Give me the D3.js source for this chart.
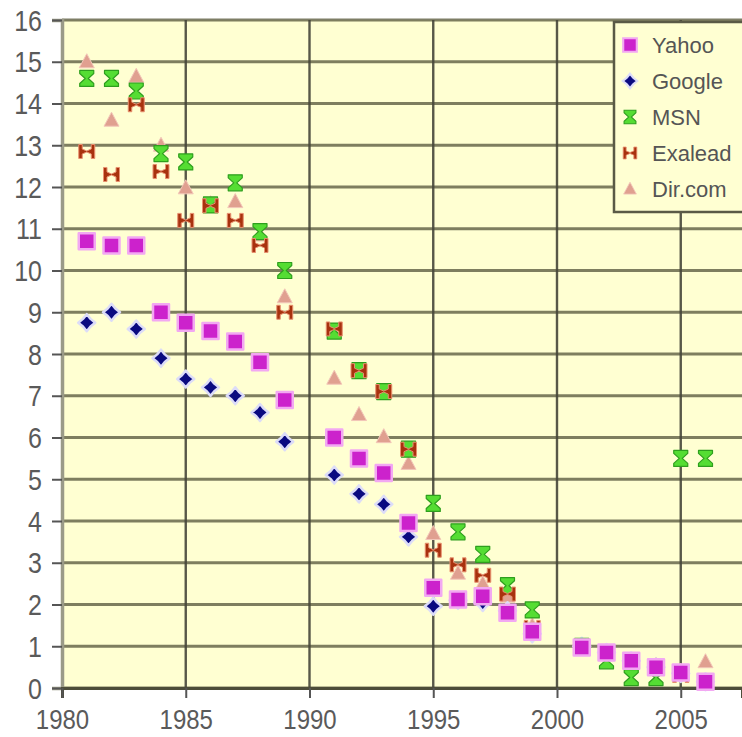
<!DOCTYPE html>
<html><head><meta charset="utf-8">
<script src="https://cdn.jsdelivr.net/npm/d3@7"></script>
<style>
html,body{margin:0;padding:0;background:#fff;}
svg{display:block;}
text{font-family:"Liberation Sans",Arial,sans-serif;}
</style></head>
<body>
<svg id="c" width="742" height="737"></svg>
<script>
const years = [1981,1982,1983,1984,1985,1986,1987,1988,1989,1991,1992,1993,1994,1995,1996,1997,1998,1999,2001,2002,2003,2004,2005,2006];
const yahoo   = [10.7,10.6,10.6,9.0,8.75,8.55,8.3,7.8,6.9, 6.0,5.5,5.15,3.95,2.4,2.12,2.2,1.8,1.35, 0.97,0.85,0.65,0.5,0.37,0.15];
const google  = [8.75,9.0,8.6,7.9,7.4,7.2,7.0,6.6,5.9, 5.1,4.65,4.4,3.62,1.96,2.1,2.05,1.85,1.3, 1.0,0.85,0.65,0.5,0.35,0.15];
const msn     = [14.6,14.6,14.3,12.8,12.6,11.57,12.1,10.93,10.0, 8.55,7.6,7.1,5.72,4.42,3.74,3.2,2.45,1.87, 1.0,0.65,0.25,0.25,5.5,5.5];
const exalead = [12.85,12.3,13.97,12.37,11.2,11.55,11.2,10.6,9.0, 8.6,7.6,7.1,5.72,3.3,2.95,2.7,2.25,1.45, 1.0,0.85,0.65,0.5,0.3,0.15];
const dircom  = [15.0,13.6,14.65,13.0,11.98,11.6,11.65,10.85,9.37, 7.42,6.55,6.02,5.38,3.7,2.75,2.5,2.2,1.5, 1.0,0.85,0.65,0.55,0.4,0.63];
const seriesNames = ["Yahoo","Google","MSN","Exalead","Dir.com"];
const xTicks = [1980,1985,1990,1995,2000,2005];
const yTicks = d3.range(0,17);

const svg = d3.select("#c");
const L = 62, R = 742, T = 20, B = 688;
const x = d3.scaleLinear().domain([1980, 1980 + (R-L)/24.75]).range([L, R]);
const y = d3.scaleLinear().domain([0,16]).range([B, T]);

// plot background
svg.append("rect").attr("x",L).attr("y",T).attr("width",R-L).attr("height",B-T).attr("fill","#FFFFD2");

// grid
const grid = svg.append("g");
grid.selectAll("line.h").data(yTicks).join("line")
  .attr("x1",L).attr("x2",R).attr("y1",d=>y(d)).attr("y2",d=>y(d))
  .attr("stroke","#68684c").attr("stroke-width",2.8).attr("opacity",0.85);
grid.selectAll("line.v").data(xTicks.slice(1)).join("line")
  .attr("x1",d=>x(d)).attr("x2",d=>x(d)).attr("y1",T).attr("y2",B)
  .attr("stroke","#46463a").attr("stroke-width",2.4).attr("opacity",0.9);

// axes
const yAxis = svg.append("g").attr("transform",`translate(${L},0)`)
  .call(d3.axisLeft(y).tickValues(yTicks).tickFormat(d3.format("d")).tickSize(10).tickPadding(10));
yAxis.select(".domain").attr("stroke","#9a9a88").attr("stroke-width",3.5);
yAxis.selectAll(".tick line").attr("stroke","#555").attr("stroke-width",2);
yAxis.selectAll(".tick text").attr("fill","#5a5a5a").attr("font-size","25px")
  .attr("transform","scale(1,1.18)").attr("dy","0.34em");

const xAxis = svg.append("g").attr("transform",`translate(0,${B})`)
  .call(d3.axisBottom(x).tickValues(xTicks).tickFormat(d3.format("d")).tickSize(10).tickPadding(8));
xAxis.select(".domain").attr("stroke","#4d4d3a").attr("stroke-width",3);
xAxis.selectAll(".tick line").attr("stroke","#555").attr("stroke-width",2);
xAxis.selectAll(".tick text").attr("fill","#5a5a5a").attr("font-size","24px")
  .attr("transform","scale(1,1.15)").attr("y",35.4).attr("dy","0");

// marker shapes
const sym = {
  Yahoo: {path: "M-8,-8H8V8H-8Z", fill:"#CC22CC", stroke:"#F2A8F2", sw:2.5},
  Google: {path: "M0,-8.5L3.8,-3.8L8.5,0L3.8,3.8L0,8.5L-3.8,3.8L-8.5,0L-3.8,-3.8Z", fill:"#0A0A80", stroke:"#DCDCF8", sw:2.5},
  MSN: {path: "M-7,-8H7V-5L1.5,0L7,5V8H-7V5L-1.5,0L-7,-5Z", fill:"#55DD33", stroke:"#2E9E1E", sw:1.2},
  Exalead: {path: "M-8,-7H-4.5V-2.5L0,-0.5L4.5,-2.5V-7H8V7H4.5V2.5L0,0.5L-4.5,2.5V7H-8Z", fill:"#A8320E", stroke:"#E89070", sw:1},
  "Dir.com": {path: "M0,-8L7.5,6H-7.5Z", fill:"#E0A090", stroke:"#F2C6B8", sw:1}
};
const dataMap = {Yahoo:yahoo, Google:google, MSN:msn, Exalead:exalead, "Dir.com":dircom};
const drawOrder = ["Dir.com","Google","MSN","Exalead","Yahoo"];

const plot = svg.append("g");
drawOrder.forEach(name=>{
  const s = sym[name];
  plot.append("g").selectAll("path").data(dataMap[name].map((v,i)=>({yr:years[i], v})))
    .join("path")
    .attr("transform",d=>`translate(${x(d.yr)},${y(d.v)})`)
    .attr("d",s.path).attr("fill",s.fill).attr("stroke",s.stroke).attr("stroke-width",s.sw)
    .attr("stroke-linejoin","round");
});

// legend
const lg = svg.append("g");
lg.append("rect").attr("x",614).attr("y",22).attr("width",140).attr("height",190)
  .attr("fill","#FFFFD2").attr("stroke","#5a5a46").attr("stroke-width",2.5);
seriesNames.forEach((name,i)=>{
  const cy = 45 + i*36;
  const s = sym[name];
  lg.append("path").attr("transform",`translate(630,${cy}) scale(0.85)`).attr("d",s.path)
    .attr("fill",s.fill).attr("stroke",s.stroke).attr("stroke-width",s.sw);
  lg.append("text").attr("x",652).attr("y",cy).attr("dy","0.36em")
    .attr("font-size","22px").attr("fill","#555").text(name);
});
</script>
</body></html>
